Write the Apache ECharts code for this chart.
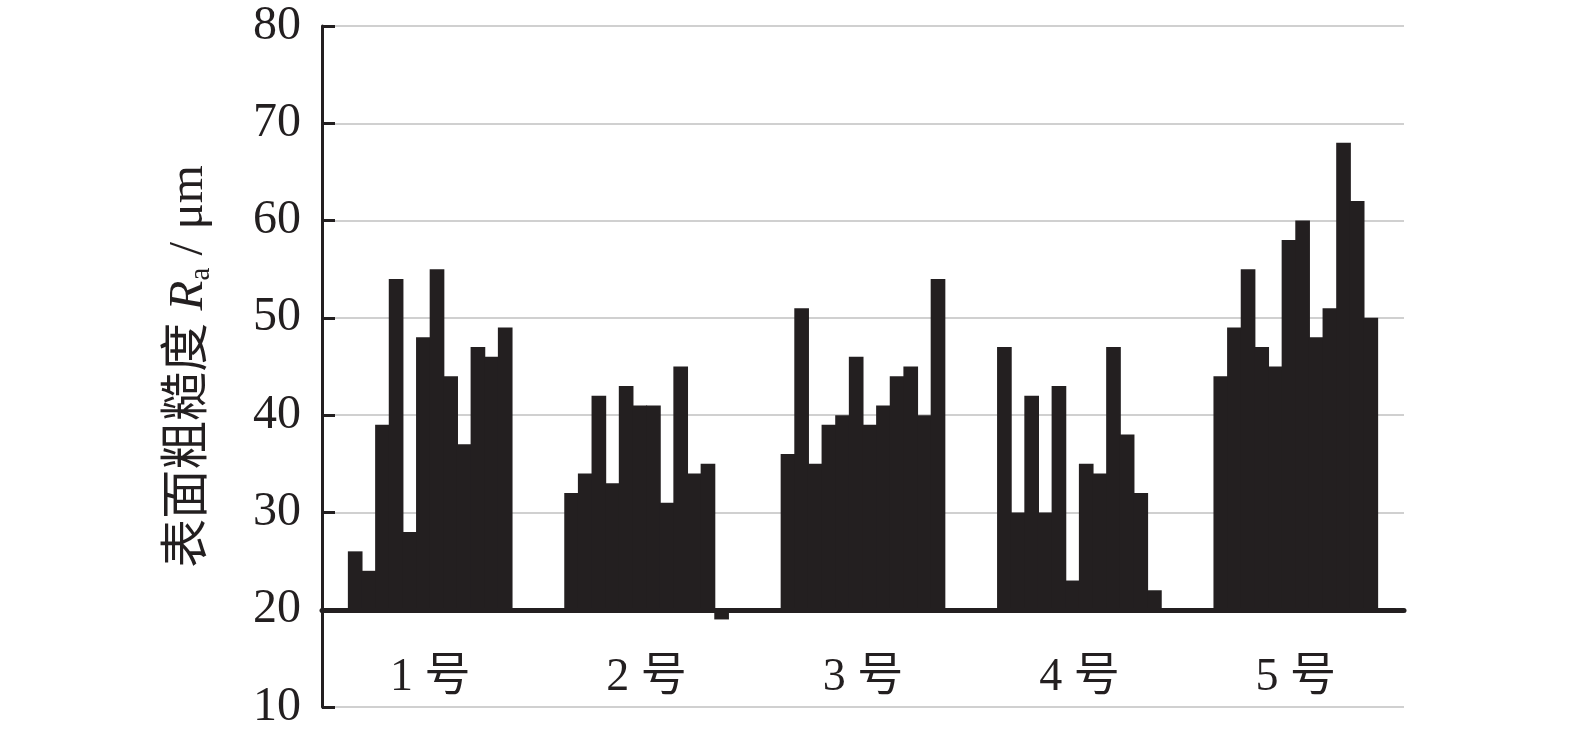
<!DOCTYPE html>
<html>
<head>
<meta charset="utf-8">
<script src="https://cdn.jsdelivr.net/npm/echarts@6/dist/echarts.min.js"></script>
<style>
  html, body { margin: 0; padding: 0; background: #ffffff; }
  #chart { width: 1575px; height: 732px; }
</style>
</head>
<body>
<div id="chart"></div>
<script>
// ---- data ----
const categories = ['1 号', '2 号', '3 号', '4 号', '5 号'];
const baseValue = 20;
const group1 = [26, 24, 39, 54, 28, 48, 55, 44, 37, 47, 46, 49];
const group2 = [32, 34, 42, 33, 43, 41, 41, 31, 45, 34, 35, 19];
const group3 = [36, 51, 35, 39, 40, 46, 39, 41, 44, 45, 40, 54];
const group4 = [47, 30, 42, 30, 43, 23, 35, 34, 47, 38, 32, 22];
const group5 = [44, 49, 55, 47, 45, 58, 60, 48, 51, 68, 62, 50];
const yTicks = [10, 20, 30, 40, 50, 60, 70, 80];

const groups = [group1, group2, group3, group4, group5];
const INK = '#231f20';
const FONT = "'Liberation Serif', 'Noto Sans CJK SC', serif";

const series = [];
for (let i = 0; i < group1.length; i++) {
  series.push({
    type: 'bar',
    stack: 'p' + i,
    stackStrategy: 'all',
    silent: true,
    barGap: '-7%',
    barCategoryGap: '23.9%',
    itemStyle: { color: 'rgba(0,0,0,0)' },
    data: categories.map(() => baseValue)
  });
  series.push({
    type: 'bar',
    stack: 'p' + i,
    stackStrategy: 'all',
    barGap: '-7%',
    barCategoryGap: '23.9%',
    itemStyle: { color: INK },
    data: groups.map(g => g[i] - baseValue)
  });
}

const chart = echarts.init(document.getElementById('chart'), null, { renderer: 'canvas' });
chart.setOption({
  animation: false,
  backgroundColor: '#ffffff',
  grid: { left: 322, right: 171, top: 26, bottom: 25, containLabel: false },
  xAxis: {
    type: 'category',
    data: categories,
    position: 'bottom',
    offset: -97,
    axisLine: { show: true, lineStyle: { color: INK, width: 5 } },
    axisTick: { show: false },
    splitLine: { show: false },
    axisLabel: { color: INK, fontSize: 46, fontFamily: FONT, margin: 45 },
    z: 5
  },
  yAxis: {
    type: 'value',
    min: yTicks[0],
    max: yTicks[yTicks.length - 1],
    interval: 10,
    name: '{c|表面粗糙度 }{r|R}{s|a}{c| / μm}',
    nameLocation: 'middle',
    nameGap: 106,
    nameTextStyle: {
      color: INK,
      fontFamily: FONT,
      fontSize: 48,
      rich: {
        c: { fontSize: 49, fontFamily: FONT, color: INK, lineHeight: 54 },
        r: { fontSize: 49, fontFamily: FONT, fontStyle: 'italic', color: INK, lineHeight: 54 },
        s: { fontSize: 29, fontFamily: FONT, color: INK, lineHeight: 54, verticalAlign: 'bottom', padding: [13, 0, 0, 0] }
      }
    },
    axisLine: { show: true, lineStyle: { color: INK, width: 3 } },
    axisTick: { show: true, inside: true, length: 13, lineStyle: { color: INK, width: 3 } },
    axisLabel: { color: INK, fontSize: 48, fontFamily: FONT, margin: 21 },
    splitLine: { show: true, lineStyle: { color: '#d0d0d0', width: 2 } }
  },
  series: series
});
</script>
</body>
</html>
